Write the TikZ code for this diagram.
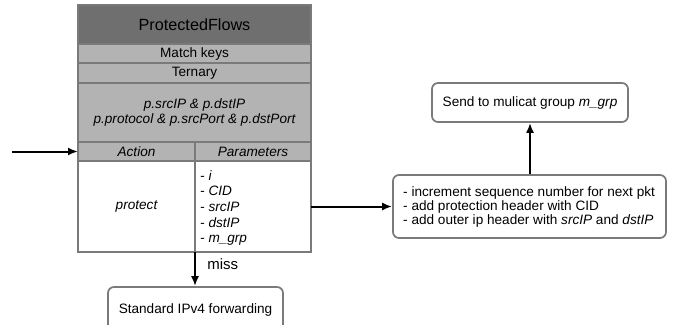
\documentclass[tikz,border=0pt]{standalone}
\usepackage{fontspec}
\setmainfont{Liberation Sans}
\usetikzlibrary{arrows.meta}
\definecolor{darkhead}{HTML}{6F6F6F}
\definecolor{lighthead}{HTML}{B3B3B3}
\definecolor{bordergray}{HTML}{7A7A7A}
\tikzset{
  cell/.style={draw=bordergray, line width=1.7pt, inner sep=0pt, outer sep=0pt, align=center, font=\fontsize{13.6}{15.5}\selectfont},
  hcell/.style={cell, fill=lighthead},
  rbox/.style={draw=bordergray, line width=1.7pt, rounded corners=6pt, inner sep=0pt, fill=white, font=\fontsize{13.6}{14.5}\selectfont},
  conn/.style={line width=2pt, -{Latex[length=10pt,width=8pt]}}
}
\begin{document}
\begin{tikzpicture}[x=1pt,y=-1pt]
\useasboundingbox (0,0) rectangle (684,324);
% table
\node[cell, fill=darkhead, minimum width=233pt, minimum height=39pt, font=\fontsize{16.2}{18}\selectfont] (title) at (194.5,24.5) {ProtectedFlows};
\node[hcell, minimum width=233pt, minimum height=19pt] (match) at (194.5,53.5) {Match keys};
\node[hcell, minimum width=233pt, minimum height=20pt] (tern) at (194.5,73) {Ternary};
\node[hcell, minimum width=233pt, minimum height=59pt, font=\fontsize{13.6}{15.5}\selectfont\itshape] (keys) at (194.5,112.5) {p.srcIP \& p.dstIP\\p.protocol \& p.srcPort \& p.dstPort};
\node[hcell, minimum width=117pt, minimum height=19pt, font=\fontsize{13.6}{15.5}\selectfont\itshape] (action) at (136.5,151.5) {Action};
\node[hcell, minimum width=116pt, minimum height=19pt, font=\fontsize{13.6}{15.5}\selectfont\itshape] (params) at (253,151.5) {Parameters};
\node[cell, fill=white, minimum width=117pt, minimum height=91pt, font=\fontsize{13.6}{15.5}\selectfont\itshape] (protect) at (136.5,206.5) {protect};
\node[cell, fill=white, minimum width=116pt, minimum height=91pt] (plist) at (253,206.5) {};
\node[anchor=west, align=left, inner sep=0pt, font=\fontsize{13.6}{15.7}\selectfont\itshape] (ptext) at (200,208) {- i\\- CID\\- srcIP\\- dstIP\\- m\_grp};
% boxes
\node[rbox, minimum width=175pt, minimum height=46pt] (std) at (195.5,310) {Standard IPv4 forwarding};
\node[rbox, minimum width=273pt, minimum height=63pt] (proc) at (529.5,206.5) {};
\node[anchor=west, align=left, inner sep=0pt, font=\fontsize{13.6}{14}\selectfont] (ptxt) at (403,207) {- increment sequence number for next pkt\\- add protection header with CID\\- add outer ip header with \textit{srcIP} and \textit{dstIP}};
\node[rbox, minimum width=196pt, minimum height=39pt] (send) at (530,102.5) {Send to mulicat group \textit{m\_grp}};
% connectors
\coordinate (in) at (12,151.5);
\draw[conn] (in) -- (action.west);
\draw[conn] (plist.east) -- (proc.west);
\draw[conn] (proc.north -| send.south) -- (send.south);
\draw[conn] (plist.south west) -- node[right=8pt, font=\fontsize{15}{16}\selectfont, pos=0.35] {miss} (std.north -| plist.south west);
\end{tikzpicture}
\end{document}
